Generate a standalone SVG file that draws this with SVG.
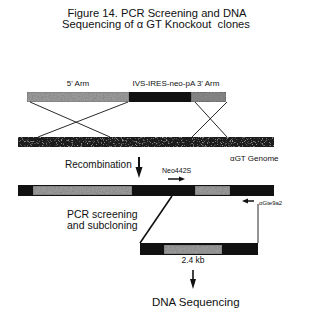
<svg xmlns="http://www.w3.org/2000/svg" width="316" height="320" viewBox="0 0 316 320">
<style>
text{font-family:"Liberation Sans",Arial,sans-serif;fill:#111;white-space:pre}
.ln{stroke:#111;stroke-width:0.9;fill:none}
.gray{fill:#9a9a9a;stroke:#555;stroke-width:0.6}
.dgray{fill:#7e7e7e;stroke:#333;stroke-width:0.6}
.blk{fill:#111}
.gen{fill:#1c1c1c}
</style>
<defs>
<filter id="spk" x="0" y="0" width="1" height="1">
<feTurbulence type="fractalNoise" baseFrequency="0.8" numOctaves="2" seed="3" result="n"/>
<feColorMatrix in="n" type="matrix" values="0 0 0 0 0.25  0 0 0 0 0.25  0 0 0 0 0.25  3 0 0 0 -1.15" result="d"/>
<feComposite in="d" in2="SourceGraphic" operator="in" result="dd"/>
<feMerge><feMergeNode in="SourceGraphic"/><feMergeNode in="dd"/></feMerge>
</filter>
<filter id="lspk" x="0" y="0" width="1" height="1">
<feTurbulence type="fractalNoise" baseFrequency="0.8" numOctaves="2" seed="7" result="n"/>
<feColorMatrix in="n" type="matrix" values="0 0 0 0 0.55  0 0 0 0 0.55  0 0 0 0 0.55  3 0 0 0 -1.75" result="d"/>
<feComposite in="d" in2="SourceGraphic" operator="in" result="dd"/>
<feMerge><feMergeNode in="SourceGraphic"/><feMergeNode in="dd"/></feMerge>
</filter>
</defs>
<rect width="316" height="320" fill="#fff"/>
<g id="title">
<text x="157" y="17" font-size="11.2" text-anchor="middle">Figure 14. PCR Screening and DNA</text>
<text x="156" y="28" font-size="11.2" text-anchor="middle" xml:space="preserve">Sequencing of α GT Knockout  clones</text>
</g>
<g id="vector">
<text x="78" y="86" font-size="8" text-anchor="middle">5' Arm</text>
<text x="176" y="86" font-size="8" text-anchor="middle">IVS-IRES-neo-pA 3' Arm</text>
<rect class="gray" x="27" y="92" width="102" height="10" filter="url(#spk)"/>
<rect class="blk" x="129" y="92" width="62" height="10"/>
<rect class="dgray" x="191" y="92" width="35" height="10" filter="url(#spk)"/>
</g>
<g id="genome">
<rect class="gen" x="18" y="137" width="256" height="10" filter="url(#lspk)"/>
<text x="230" y="161" font-size="8">αGT Genome</text>
</g>
<g id="recombined">
<rect class="blk" x="18" y="185" width="256" height="11"/>
<rect class="gray" x="33" y="186" width="99" height="9" filter="url(#spk)"/>
<rect class="gray" x="195" y="186" width="35" height="9" filter="url(#spk)"/>
</g>
<g id="subclone">
<rect class="blk" x="140" y="243" width="118" height="12"/>
<rect class="gray" x="164" y="245" width="58" height="9" filter="url(#spk)"/>
<text x="193" y="263" font-size="8.5" text-anchor="middle">2.4 kb</text>
</g>
<g id="labels">
<text x="65" y="168" font-size="10">Recombination</text>
<text x="162" y="173" font-size="7">Neo442S</text>
<text x="259" y="205" font-size="6">αGte9a2</text>
<text x="67" y="218" font-size="10.5">PCR screening</text>
<text x="67" y="229" font-size="10.5">and subcloning</text>
<text x="152" y="306" font-size="11.5">DNA Sequencing</text>
</g>
<g id="connectors">
<line class="ln" x1="30" y1="102" x2="110" y2="137"/>
<line class="ln" x1="128" y1="102" x2="38" y2="137"/>
<line class="ln" x1="195" y1="102" x2="227" y2="137"/>
<line class="ln" x1="227" y1="102" x2="192" y2="137"/>
<line x1="139" y1="157" x2="139" y2="170" stroke="#111" stroke-width="2"/>
<polygon points="135.5,167 142.5,167 139,178" fill="#111"/>
<line x1="168" y1="179" x2="180" y2="179" stroke="#111" stroke-width="1.5"/>
<polygon points="179,176.5 185,179 179,181.5" fill="#111"/>
<line x1="254" y1="201" x2="247" y2="201" stroke="#111" stroke-width="1.5"/>
<polygon points="248,198.5 242,201 248,203.5" fill="#111"/>
<line x1="172" y1="196" x2="140" y2="243" stroke="#111" stroke-width="1.6"/>
<line x1="258" y1="204" x2="258" y2="243" stroke="#111" stroke-width="0.9"/>
<line x1="193" y1="270" x2="193" y2="281" stroke="#111" stroke-width="1.6"/>
<polygon points="190,279 196,279 193,289" fill="#111"/>
</g>
</svg>
